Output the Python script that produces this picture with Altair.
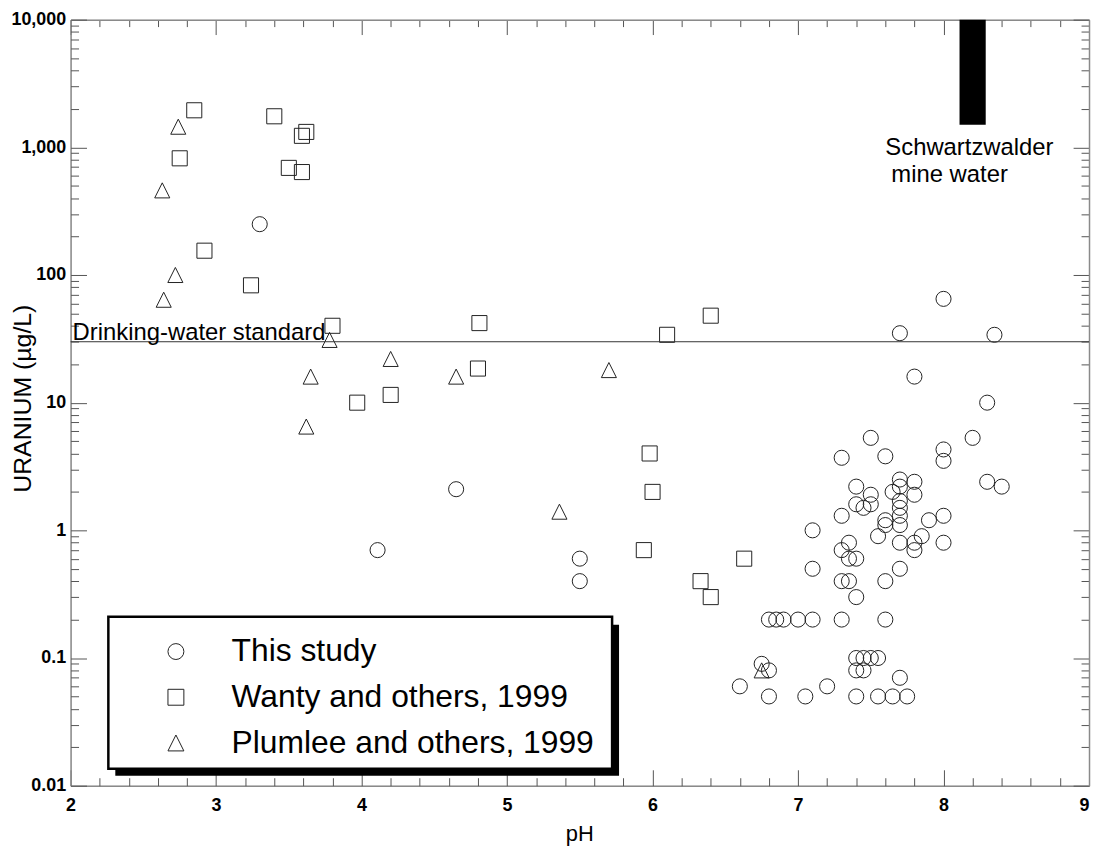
import altair as alt
import pandas as pd

# ---------------- data ----------------
series_names = ["This study", "Wanty and others, 1999", "Plumlee and others, 1999"]

study_ph = [3.30, 4.65, 4.11, 5.50, 5.50, 8.00, 7.70, 8.35, 7.80, 8.30,
            7.50, 8.20, 7.30, 7.60, 8.00, 8.00, 8.30, 8.40, 7.70, 7.80,
            7.40, 7.50, 7.65, 7.70, 7.80, 7.40, 7.45, 7.50, 7.70, 7.70,
            7.30, 7.60, 7.60, 7.70, 7.70, 7.90, 8.00, 7.10, 7.55, 7.35,
            7.30, 7.35, 7.40, 7.70, 7.80, 7.80, 7.85, 8.00, 7.10, 7.30,
            7.35, 7.60, 7.70, 7.40,
            6.80, 6.85, 6.90, 7.00, 7.10, 7.30, 7.60,
            7.40, 7.45, 7.50, 7.55, 7.40, 7.45,
            6.75, 6.80, 7.70, 6.60, 7.20,
            6.80, 7.05, 7.40, 7.55, 7.65, 7.75]
study_u = [250, 2.1, 0.7, 0.6, 0.4, 65, 35, 34, 16, 10,
           5.3, 5.3, 3.7, 3.8, 4.3, 3.5, 2.4, 2.2, 2.5, 2.4,
           2.2, 1.9, 2.0, 2.2, 1.9, 1.6, 1.5, 1.6, 1.7, 1.5,
           1.3, 1.2, 1.1, 1.3, 1.1, 1.2, 1.3, 1.0, 0.9, 0.8,
           0.7, 0.6, 0.6, 0.8, 0.8, 0.7, 0.9, 0.8, 0.5, 0.4,
           0.4, 0.4, 0.5, 0.3,
           0.2, 0.2, 0.2, 0.2, 0.2, 0.2, 0.2,
           0.1, 0.1, 0.1, 0.1, 0.08, 0.08,
           0.09, 0.08, 0.07, 0.06, 0.06,
           0.05, 0.05, 0.05, 0.05, 0.05, 0.05]

wanty_ph = [2.85, 3.40, 3.62, 3.59, 2.75, 3.50, 3.59, 2.92, 3.24, 3.80,
            3.97, 4.20, 4.81, 4.80, 6.10, 6.40, 5.98, 6.00, 5.94, 6.63,
            6.33, 6.40]
wanty_u = [1950, 1750, 1320, 1230, 820, 690, 640, 155, 83, 40,
           10, 11.5, 42, 18.5, 34, 48, 4.0, 2.0, 0.7, 0.6,
           0.4, 0.3]

plumlee_ph = [2.74, 2.63, 2.72, 2.64, 3.78, 3.65, 3.62, 4.20, 4.65, 5.70,
              5.36, 6.75]
plumlee_u = [1450, 460, 100, 64, 31, 16, 6.5, 22, 16, 18,
             1.4, 0.08]

mine_ph = [8.11, 8.29]
mine_u = [1500, 10000]

standard_u = [30]
standard_label = ["Drinking-water standard"]
mine_label_ph = [7.60]
mine_label_u = [875]
mine_label_1 = ["Schwartzwalder"]
mine_label_2 = ["mine water"]

x_major = [2, 3, 4, 5, 6, 7, 8, 9]
x_minor = [2.2, 2.4, 2.6, 2.8, 3.2, 3.4, 3.6, 3.8, 4.2, 4.4, 4.6, 4.8,
           5.2, 5.4, 5.6, 5.8, 6.2, 6.4, 6.6, 6.8, 7.2, 7.4, 7.6, 7.8,
           8.2, 8.4, 8.6, 8.8]
y_major = [0.01, 0.1, 1, 10, 100, 1000, 10000]
y_minor = [m * d for d in [0.01, 0.1, 1, 10, 100, 1000] for m in range(2, 10)]

# ---------------- build ----------------
df = pd.concat([
    pd.DataFrame({"pH": study_ph, "U": study_u, "source": series_names[0]}),
    pd.DataFrame({"pH": wanty_ph, "U": wanty_u, "source": series_names[1]}),
    pd.DataFrame({"pH": plumlee_ph, "U": plumlee_u, "source": series_names[2]}),
], ignore_index=True)

W, H = 1025, 771
FONT = "Liberation Sans"
INK = "#222222"
AXC = "#8a8a8a"

xs = alt.Scale(domain=[2, 9], nice=False, zero=False)
ys = alt.Scale(type="log", domain=[0.01, 10000], nice=False)

x_test = "datum.value % 1 === 0"
y_test = "abs(log(datum.value)/LN10 - round(log(datum.value)/LN10)) < 1e-6"

tri = "M0,-1L1,1L-1,1Z"

points = alt.Chart(df).mark_point(filled=False, stroke=INK, strokeWidth=1, size=230, opacity=1).encode(
    x=alt.X("pH:Q", scale=xs, axis=alt.Axis(
        orient="bottom", values=x_major, ticks=False, domain=True, domainColor=AXC, domainWidth=1.5,
        labelFont=FONT, labelFontSize=18, labelFontWeight="bold", labelColor="black",
        labelPadding=11, labelFlush=False,
        labelAlign={"condition": {"test": "datum.value === 9", "value": "right"}, "value": "center"},
        title="pH", titleFont=FONT, titleFontSize=22, titleFontWeight="normal", titleColor="black",
        titleX=512, titleY=48, titleBaseline="middle", titleAlign="center", grid=False)),
    y=alt.Y("U:Q", scale=ys, axis=alt.Axis(
        orient="left", values=y_major, format=",", ticks=False, domain=True, domainColor=AXC, domainWidth=1.5,
        labelFont=FONT, labelFontSize=18, labelFontWeight="bold", labelColor="black",
        labelPadding=5, labelFlush=False,
        title="URANIUM (µg/L)", titleFont=FONT, titleFontSize=25, titleFontWeight="normal", titleColor="black",
        titleX=-48, titleY=381, titleBaseline="middle", titleAlign="center", titleAngle=270, grid=False)),
    shape=alt.Shape("source:N", scale=alt.Scale(domain=series_names, range=["circle", "square", tri]),
                    legend=alt.Legend(
                        orient="none", legendX=90, legendY=620, title=None, padding=0,
                        labelFont=FONT, labelFontSize=32, labelColor="black", labelLimit=600,
                        labelOffset=40, symbolSize=256, symbolStrokeColor=INK, symbolStrokeWidth=1,
                        symbolFillColor="transparent", rowPadding=14)),
)

# inward ticks along bottom and left edges
ticks_bl = alt.Chart(df).mark_point(opacity=0).encode(
    x=alt.X("pH:Q", scale=xs, axis=alt.Axis(
        orient="top", offset=-H, values=x_major + x_minor, labels=False, domain=False, grid=False,
        tickColor="#555555", tickWidth=1,
        tickSize={"condition": {"test": x_test, "value": 16}, "value": 8}, title=None)),
    y=alt.Y("U:Q", scale=ys, axis=alt.Axis(
        orient="right", offset=-W, values=y_major + y_minor, labels=False, domain=False, grid=False,
        tickColor="#555555", tickWidth=1,
        tickSize={"condition": {"test": y_test, "value": 16}, "value": 8}, title=None)),
)

# top and right edges with inward ticks
ticks_tr = alt.Chart(df).mark_point(opacity=0).encode(
    x=alt.X("pH:Q", scale=xs, axis=alt.Axis(
        orient="bottom", offset=-H, values=x_major + x_minor, labels=False, domain=True,
        domainColor=AXC, domainWidth=1.5, grid=False, tickColor="#555555", tickWidth=1,
        tickSize={"condition": {"test": x_test, "value": 15}, "value": 7}, title=None)),
    y=alt.Y("U:Q", scale=ys, axis=alt.Axis(
        orient="left", offset=-W, values=y_major + y_minor, labels=False, domain=True,
        domainColor=AXC, domainWidth=1.5, grid=False, tickColor="#555555", tickWidth=1,
        tickSize={"condition": {"test": y_test, "value": 16}, "value": 8}, title=None)),
)

std_df = pd.DataFrame({"U": standard_u, "label": standard_label})
std_rule = alt.Chart(std_df).mark_rule(color="#333333", strokeWidth=1).encode(
    y=alt.Y("U:Q", scale=ys, axis=None),
    x=alt.value(0), x2=alt.value(W),
)
std_text = alt.Chart(std_df).mark_text(
    align="left", baseline="alphabetic", dx=2, dy=-2, font=FONT, fontSize=24, color="black"
).encode(
    y=alt.Y("U:Q", scale=ys, axis=None),
    x=alt.value(0),
    text="label:N",
)

mine_df = pd.DataFrame({"ph0": [mine_ph[0]], "ph1": [mine_ph[1]], "u0": [mine_u[0]], "u1": [mine_u[1]]})
mine_bar = alt.Chart(mine_df).mark_rect(color="black").encode(
    x=alt.X("ph0:Q", scale=xs, axis=None), x2="ph1:Q",
    y=alt.Y("u0:Q", scale=ys, axis=None), y2="u1:Q",
)
mine_txt_df = pd.DataFrame({"pH": mine_label_ph, "U": mine_label_u,
                            "l1": mine_label_1, "l2": mine_label_2})
mine_text1 = alt.Chart(mine_txt_df).mark_text(
    align="left", baseline="alphabetic", font=FONT, fontSize=24, color="black"
).encode(
    x=alt.X("pH:Q", scale=xs, axis=None),
    y=alt.Y("U:Q", scale=ys, axis=None),
    text="l1:N",
)
mine_text2 = alt.Chart(mine_txt_df).mark_text(
    align="left", baseline="alphabetic", font=FONT, fontSize=24, color="black", dx=6, dy=27
).encode(
    x=alt.X("pH:Q", scale=xs, axis=None),
    y=alt.Y("U:Q", scale=ys, axis=None),
    text="l2:N",
)

box_df = pd.DataFrame({"k": [0]})
shadow = alt.Chart(box_df).mark_rect(color="black").encode(
    x=alt.value(45), x2=alt.value(552), y=alt.value(609), y2=alt.value(761))
box = alt.Chart(box_df).mark_rect(fill="white", stroke="black", strokeWidth=2.5).encode(
    x=alt.value(38), x2=alt.value(545), y=alt.value(601), y2=alt.value(754))

chart = alt.layer(
    points, ticks_bl, ticks_tr, std_rule, std_text, mine_bar, mine_text1, mine_text2, shadow, box
).resolve_axis(x="independent", y="independent").properties(
    width=W, height=H,
    autosize=alt.AutoSizeParams(type="none"),
    padding={"left": 63, "top": 9, "right": 2, "bottom": 59},
).configure_view(stroke=None).configure(background="white")

chart.save("out.html", embed_options={"renderer": "svg", "actions": False})
